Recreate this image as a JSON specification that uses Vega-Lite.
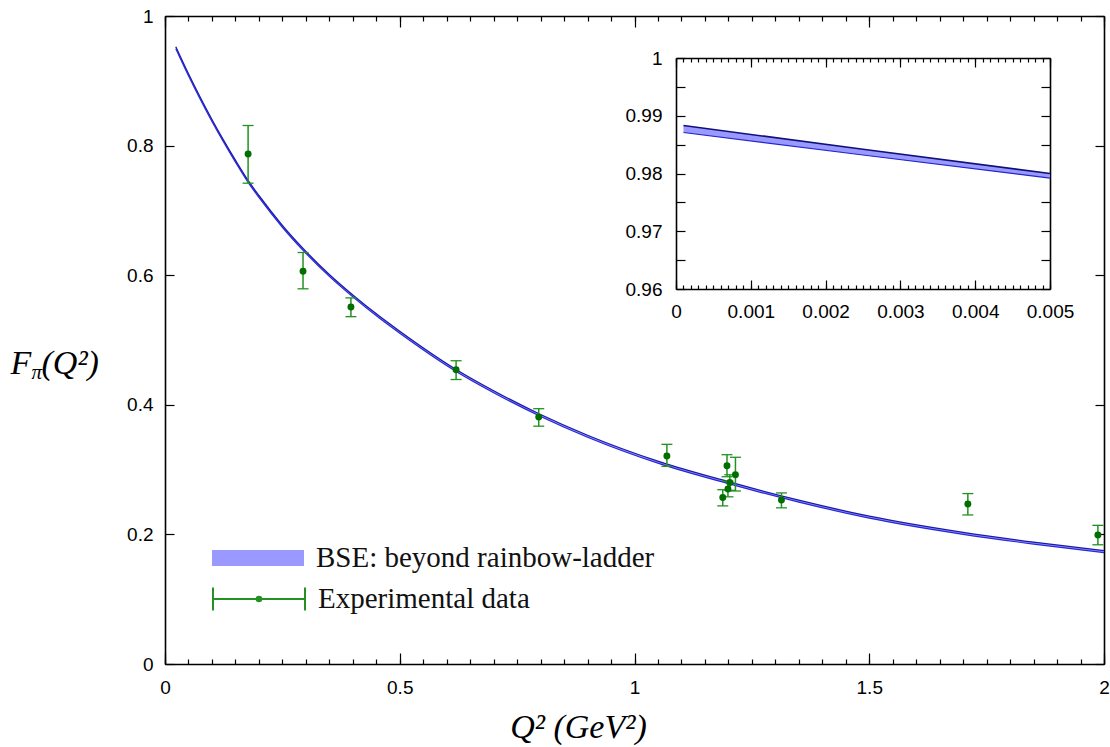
{
  "$schema": "https://vega.github.io/schema/vega-lite/v6.json",
  "width": 939,
  "height": 648,
  "autosize": {"type": "none"},
  "padding": {"left": 165, "top": 16, "right": 6, "bottom": 83},
  "background": "white",
  "config": {
    "view": {"stroke": null},
    "axis": {
      "grid": false, "domainColor": "#000", "domainWidth": 1.6, "tickColor": "#000", "tickWidth": 1.2,
      "labelFont": "Liberation Sans", "labelFontSize": 19, "labelColor": "#000", "labelFlush": false, "labelOverlap": false,
      "titleFont": "Liberation Serif", "titleFontStyle": "italic", "titleFontWeight": "normal", "titleFontSize": 34, "titleColor": "#000"
    }
  },
  "datasets": {
    "curve": [
      {"q2": 0.023, "lo": 0.9495, "hi": 0.9525},
      {"q2": 0.05, "lo": 0.9078, "hi": 0.9108},
      {"q2": 0.075, "lo": 0.8716, "hi": 0.8746},
      {"q2": 0.1, "lo": 0.8373, "hi": 0.8403},
      {"q2": 0.124, "lo": 0.8063, "hi": 0.8093},
      {"q2": 0.15, "lo": 0.7745, "hi": 0.7775},
      {"q2": 0.177, "lo": 0.7432, "hi": 0.7462},
      {"q2": 0.2, "lo": 0.72, "hi": 0.723},
      {"q2": 0.25, "lo": 0.674, "hi": 0.677},
      {"q2": 0.294, "lo": 0.6384, "hi": 0.6414},
      {"q2": 0.35, "lo": 0.5981, "hi": 0.6011},
      {"q2": 0.4, "lo": 0.5665, "hi": 0.5695},
      {"q2": 0.457, "lo": 0.5335, "hi": 0.5365},
      {"q2": 0.5, "lo": 0.5105, "hi": 0.5135},
      {"q2": 0.62, "lo": 0.4515, "hi": 0.4545},
      {"q2": 0.7, "lo": 0.4187, "hi": 0.4217},
      {"q2": 0.8, "lo": 0.382, "hi": 0.385},
      {"q2": 0.9, "lo": 0.35, "hi": 0.353},
      {"q2": 1.053, "lo": 0.3092, "hi": 0.3122},
      {"q2": 1.2, "lo": 0.2783, "hi": 0.2813},
      {"q2": 1.35, "lo": 0.2498, "hi": 0.2528},
      {"q2": 1.5, "lo": 0.2251, "hi": 0.2281},
      {"q2": 1.7, "lo": 0.2001, "hi": 0.2031},
      {"q2": 1.85, "lo": 0.1851, "hi": 0.1881},
      {"q2": 2.0, "lo": 0.1719, "hi": 0.1749}
    ],
    "exp": [
      {"q2": 0.177, "f": 0.787, "lo": 0.742, "hi": 0.831},
      {"q2": 0.294, "f": 0.606, "lo": 0.579, "hi": 0.635},
      {"q2": 0.396, "f": 0.551, "lo": 0.536, "hi": 0.565},
      {"q2": 0.62, "f": 0.454, "lo": 0.439, "hi": 0.468},
      {"q2": 0.796, "f": 0.381, "lo": 0.367, "hi": 0.394},
      {"q2": 1.069, "f": 0.321, "lo": 0.305, "hi": 0.339},
      {"q2": 1.188, "f": 0.257, "lo": 0.244, "hi": 0.269},
      {"q2": 1.197, "f": 0.306, "lo": 0.289, "hi": 0.323},
      {"q2": 1.199, "f": 0.27, "lo": 0.258, "hi": 0.282},
      {"q2": 1.203, "f": 0.28, "lo": 0.268, "hi": 0.292},
      {"q2": 1.215, "f": 0.292, "lo": 0.267, "hi": 0.319},
      {"q2": 1.313, "f": 0.253, "lo": 0.241, "hi": 0.264},
      {"q2": 1.71, "f": 0.247, "lo": 0.23, "hi": 0.263},
      {"q2": 1.987, "f": 0.199, "lo": 0.184, "hi": 0.214}
    ],
    "inset": [
      {"q2": 0.0001, "lo": 0.9871, "hi": 0.9883},
      {"q2": 0.0025, "lo": 0.9832, "hi": 0.9842},
      {"q2": 0.005, "lo": 0.9792, "hi": 0.98}
    ]
  },
  "resolve": {"scale": {"x": "independent", "y": "independent"}, "axis": {"x": "independent", "y": "independent"}},
  "layer": [
    {
      "resolve": {"axis": {"x": "independent", "y": "independent"}},
      "layer": [
        {
          "data": {"name": "curve"},
          "mark": {"type": "area", "interpolate": "monotone", "opacity": 1},
          "encoding": {
            "x": {"field": "q2", "type": "quantitative", "scale": {"domain": [0, 2], "nice": false, "zero": false}, "axis": null},
            "y": {"field": "lo", "type": "quantitative", "scale": {"domain": [0, 1], "nice": false, "zero": false}, "axis": null},
            "y2": {"field": "hi"},
            "fill": {
              "datum": "BSE: beyond rainbow-ladder", "type": "nominal",
              "scale": {"domain": ["BSE: beyond rainbow-ladder"], "range": ["#9999ff"]},
              "legend": {
                "title": null, "orient": "none", "legendX": 47, "legendY": 523, "direction": "vertical",
                "padding": 0, "symbolType": "M-1,-0.174H1V0.174H-1Z", "symbolSize": 8464, "symbolStrokeWidth": 0,
                "symbolFillColor": "#9c9cf8", "symbolOpacity": 1, "clipHeight": 38, "rowPadding": 0,
                "labelFont": "Liberation Serif", "labelFontSize": 29, "labelColor": "#111", "labelOffset": 12, "labelLimit": 500
              }
            }
          }
        },
        {
          "data": {"name": "curve"},
          "mark": {"type": "line", "interpolate": "monotone", "color": "#1a1aa8", "strokeWidth": 1.3},
          "encoding": {
            "x": {"field": "q2", "type": "quantitative", "scale": {"domain": [0, 2], "nice": false, "zero": false}, "axis": null},
            "y": {"field": "hi", "type": "quantitative", "scale": {"domain": [0, 1], "nice": false, "zero": false}, "axis": null}
          }
        },
        {
          "data": {"name": "curve"},
          "mark": {"type": "line", "interpolate": "monotone", "color": "#2828d8", "strokeWidth": 1.2},
          "encoding": {
            "x": {"field": "q2", "type": "quantitative", "scale": {"domain": [0, 2], "nice": false, "zero": false}, "axis": null},
            "y": {"field": "lo", "type": "quantitative", "scale": {"domain": [0, 1], "nice": false, "zero": false}, "axis": null}
          }
        },
        {
          "data": {"name": "exp"},
          "mark": {"type": "rule", "strokeWidth": 1.5},
          "encoding": {
            "x": {"field": "q2", "type": "quantitative", "scale": {"domain": [0, 2], "nice": false, "zero": false}, "axis": null},
            "y": {"field": "lo", "type": "quantitative", "scale": {"domain": [0, 1], "nice": false, "zero": false}, "axis": null},
            "y2": {"field": "hi"},
            "stroke": {
              "datum": "Experimental data", "type": "nominal",
              "scale": {"domain": ["Experimental data"], "range": ["#239223"]},
              "legend": {
                "title": null, "orient": "none", "legendX": 47, "legendY": 564, "direction": "vertical",
                "padding": 0, "symbolType": "M-1,-0.25V0.25M-1,0H1M1,-0.25V0.25M-0.05,0A0.05,0.05,0,1,0,0.05,0A0.05,0.05,0,1,0,-0.05,0Z",
                "symbolSize": 8464, "symbolStrokeWidth": 2, "symbolStrokeColor": "#139a13", "symbolFillColor": "#139a13", "symbolOpacity": 1,
                "clipHeight": 38, "rowPadding": 0,
                "labelFont": "Liberation Serif", "labelFontSize": 29, "labelColor": "#111", "labelOffset": 12, "labelLimit": 500
              }
            }
          }
        },
        {
          "data": {"name": "exp"},
          "mark": {"type": "tick", "orient": "horizontal", "color": "#239223", "size": 11, "thickness": 1.3, "opacity": 1},
          "encoding": {
            "x": {"field": "q2", "type": "quantitative", "scale": {"domain": [0, 2], "nice": false, "zero": false}, "axis": null},
            "y": {"field": "lo", "type": "quantitative", "scale": {"domain": [0, 1], "nice": false, "zero": false}, "axis": null}
          }
        },
        {
          "data": {"name": "exp"},
          "mark": {"type": "tick", "orient": "horizontal", "color": "#239223", "size": 11, "thickness": 1.3, "opacity": 1},
          "encoding": {
            "x": {"field": "q2", "type": "quantitative", "scale": {"domain": [0, 2], "nice": false, "zero": false}, "axis": null},
            "y": {"field": "hi", "type": "quantitative", "scale": {"domain": [0, 1], "nice": false, "zero": false}, "axis": null}
          }
        },
        {
          "data": {"name": "exp"},
          "mark": {"type": "point", "filled": true, "size": 48, "opacity": 1, "color": "#006f00"},
          "encoding": {
            "x": {"field": "q2", "type": "quantitative", "scale": {"domain": [0, 2], "nice": false, "zero": false}, "axis": null},
            "y": {"field": "f", "type": "quantitative", "scale": {"domain": [0, 1], "nice": false, "zero": false}, "axis": null}
          }
        },
        {
          "data": {"name": "exp"},
          "mark": {"type": "point", "opacity": 0},
          "encoding": {
            "x": {"field": "q2", "type": "quantitative", "scale": {"domain": [0, 2], "nice": false, "zero": false},
              "axis": {"orient": "bottom", "values": [0, 0.5, 1, 1.5, 2], "format": "~g", "tickSize": -11, "labelPadding": 25,
                "title": "Q²  (GeV²)", "titleX": 413, "titleY": 73, "titleAlign": "center", "titleBaseline": "alphabetic"}},
            "y": {"field": "f", "type": "quantitative", "scale": {"domain": [0, 1], "nice": false, "zero": false},
              "axis": {"orient": "left", "values": [0, 0.2, 0.4, 0.6, 0.8, 1], "format": "~g", "tickSize": -9, "labelPadding": 21,
                "title": "F", "titleAngle": 0, "titleX": -155, "titleY": 357, "titleAlign": "left", "titleBaseline": "alphabetic"}}
          }
        },
        {
          "data": {"name": "exp"},
          "mark": {"type": "point", "opacity": 0},
          "encoding": {
            "x": {"field": "q2", "type": "quantitative", "scale": {"domain": [0, 2], "nice": false, "zero": false},
              "axis": {"orient": "bottom", "tickCount": 40, "tickSize": -5, "labels": false, "domain": false, "title": null}},
            "y": {"field": "f", "type": "quantitative", "scale": {"domain": [0, 1], "nice": false, "zero": false},
              "axis": {"orient": "right", "values": [0, 0.2, 0.4, 0.6, 0.8, 1], "tickSize": -9, "labels": false,
                "title": "(Q²)", "titleAngle": 0, "titleX": -1063, "titleY": 357, "titleAlign": "left", "titleBaseline": "alphabetic"}}
          }
        },
        {
          "data": {"name": "exp"},
          "mark": {"type": "point", "opacity": 0},
          "encoding": {
            "x": {"field": "q2", "type": "quantitative", "scale": {"domain": [0, 2], "nice": false, "zero": false},
              "axis": {"orient": "top", "values": [0, 0.5, 1, 1.5, 2], "tickSize": -11, "labels": false, "title": null}},
            "y": {"field": "f", "type": "quantitative", "scale": {"domain": [0, 1], "nice": false, "zero": false}, "axis": null}
          }
        },
        {
          "data": {"name": "exp"},
          "mark": {"type": "point", "opacity": 0},
          "encoding": {
            "x": {"field": "q2", "type": "quantitative", "scale": {"domain": [0, 2], "nice": false, "zero": false},
              "axis": {"orient": "top", "tickCount": 40, "tickSize": -5, "labels": false, "domain": false,
                "title": "π", "titleFontSize": 21, "titleX": -134, "titleY": 362, "titleAlign": "left", "titleBaseline": "alphabetic"}},
            "y": {"field": "f", "type": "quantitative", "scale": {"domain": [0, 1], "nice": false, "zero": false}, "axis": null}
          }
        }
      ]
    },
    {
      "resolve": {"axis": {"x": "independent", "y": "independent"}},
      "layer": [
        {
          "data": {"name": "inset"},
          "mark": {"type": "area", "color": "#9999ff", "opacity": 1},
          "encoding": {
            "x": {"field": "q2", "type": "quantitative", "scale": {"domain": [0, 0.005], "range": [511, 885], "nice": false, "zero": false}, "axis": null},
            "y": {"field": "lo", "type": "quantitative", "scale": {"domain": [0.96, 1], "range": [273, 42], "nice": false, "zero": false}, "axis": null},
            "y2": {"field": "hi"}
          }
        },
        {
          "data": {"name": "inset"},
          "mark": {"type": "line", "color": "#10107a", "strokeWidth": 1.6},
          "encoding": {
            "x": {"field": "q2", "type": "quantitative", "scale": {"domain": [0, 0.005], "range": [511, 885], "nice": false, "zero": false}, "axis": null},
            "y": {"field": "hi", "type": "quantitative", "scale": {"domain": [0.96, 1], "range": [273, 42], "nice": false, "zero": false}, "axis": null}
          }
        },
        {
          "data": {"name": "inset"},
          "mark": {"type": "line", "color": "#2424c8", "strokeWidth": 1.2},
          "encoding": {
            "x": {"field": "q2", "type": "quantitative", "scale": {"domain": [0, 0.005], "range": [511, 885], "nice": false, "zero": false}, "axis": null},
            "y": {"field": "lo", "type": "quantitative", "scale": {"domain": [0.96, 1], "range": [273, 42], "nice": false, "zero": false}, "axis": null}
          }
        },
        {
          "data": {"name": "inset"},
          "mark": {"type": "point", "opacity": 0},
          "encoding": {
            "x": {"field": "q2", "type": "quantitative", "scale": {"domain": [0, 0.005], "range": [511, 885], "nice": false, "zero": false},
              "axis": {"orient": "bottom", "offset": -375, "values": [0, 0.001, 0.002, 0.003, 0.004, 0.005], "format": "~g", "tickSize": -9, "labelPadding": 22, "title": null}},
            "y": {"field": "lo", "type": "quantitative", "scale": {"domain": [0.96, 1], "range": [273, 42], "nice": false, "zero": false},
              "axis": {"orient": "left", "offset": -511, "tickCount": 8, "tickSize": -9, "labelPadding": 23,
                "labelExpr": "round(datum.value*1000) % 10 === 0 ? format(datum.value, '~g') : ''", "title": null}}
          }
        },
        {
          "data": {"name": "inset"},
          "mark": {"type": "point", "opacity": 0},
          "encoding": {
            "x": {"field": "q2", "type": "quantitative", "scale": {"domain": [0, 0.005], "range": [511, 885], "nice": false, "zero": false},
              "axis": {"orient": "bottom", "offset": -375, "tickCount": 50, "tickSize": -4, "labels": false, "domain": false, "title": null}},
            "y": {"field": "lo", "type": "quantitative", "scale": {"domain": [0.96, 1], "range": [273, 42], "nice": false, "zero": false},
              "axis": {"orient": "right", "offset": -54, "tickCount": 8, "tickSize": -9, "labels": false, "title": null}}
          }
        },
        {
          "data": {"name": "inset"},
          "mark": {"type": "point", "opacity": 0},
          "encoding": {
            "x": {"field": "q2", "type": "quantitative", "scale": {"domain": [0, 0.005], "range": [511, 885], "nice": false, "zero": false},
              "axis": {"orient": "top", "offset": -42, "values": [0, 0.001, 0.002, 0.003, 0.004, 0.005], "tickSize": -9, "labels": false, "title": null}},
            "y": {"field": "lo", "type": "quantitative", "scale": {"domain": [0.96, 1], "range": [273, 42], "nice": false, "zero": false}, "axis": null}
          }
        },
        {
          "data": {"name": "inset"},
          "mark": {"type": "point", "opacity": 0},
          "encoding": {
            "x": {"field": "q2", "type": "quantitative", "scale": {"domain": [0, 0.005], "range": [511, 885], "nice": false, "zero": false},
              "axis": {"orient": "top", "offset": -42, "tickCount": 50, "tickSize": -4, "labels": false, "domain": false, "title": null}},
            "y": {"field": "lo", "type": "quantitative", "scale": {"domain": [0.96, 1], "range": [273, 42], "nice": false, "zero": false}, "axis": null}
          }
        }
      ]
    }
  ]
}
